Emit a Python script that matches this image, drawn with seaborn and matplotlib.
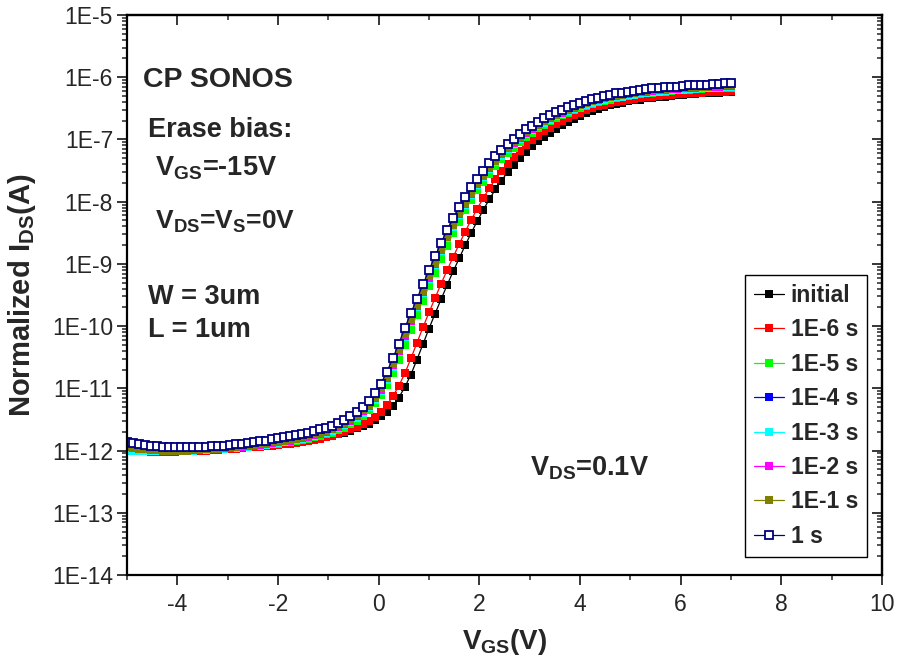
import numpy as np
import pandas as pd
import matplotlib
matplotlib.use("Agg")
import matplotlib.pyplot as plt
from matplotlib.ticker import MultipleLocator, LogLocator, FuncFormatter, NullFormatter
from matplotlib.lines import Line2D
import seaborn as sns

# Gate sweep: -5 V to 7 V in 0.12 V steps
vgs = np.round(np.arange(101) * 0.12 - 5.0, 2)

# log10 of normalized drain current for each erase time
log_initial = [
    -11.98, -11.99, -12.00, -12.00, -12.01, -12.01, -12.01, -12.01, -12.01, -12.01,
    -12.01, -12.00, -12.00, -11.99, -11.99, -11.98, -11.98, -11.97, -11.96, -11.96,
    -11.95, -11.94, -11.94, -11.93, -11.92, -11.91, -11.90, -11.89, -11.87, -11.86,
    -11.85, -11.83, -11.81, -11.79, -11.77, -11.74, -11.71, -11.68, -11.64, -11.61,
    -11.57, -11.51, -11.45, -11.38, -11.29, -11.15, -10.98, -10.78, -10.54, -10.29,
    -10.04, -9.80, -9.57, -9.34, -9.12, -8.91, -8.70, -8.50, -8.31, -8.13,
    -7.96, -7.80, -7.66, -7.53, -7.41, -7.30, -7.20, -7.11, -7.03, -6.96,
    -6.89, -6.83, -6.77, -6.72, -6.67, -6.62, -6.58, -6.54, -6.51, -6.48,
    -6.45, -6.43, -6.41, -6.39, -6.37, -6.36, -6.34, -6.33, -6.32, -6.31,
    -6.30, -6.29, -6.28, -6.27, -6.27, -6.26, -6.26, -6.25, -6.25, -6.24, -6.24,
]
log_1e6 = [
    -11.99, -12.00, -12.01, -12.01, -12.02, -12.02, -12.02, -12.02, -12.02, -12.01,
    -12.01, -12.01, -12.00, -12.00, -11.99, -11.99, -11.98, -11.97, -11.97, -11.96,
    -11.95, -11.95, -11.94, -11.93, -11.92, -11.91, -11.90, -11.89, -11.88, -11.86,
    -11.85, -11.83, -11.81, -11.79, -11.76, -11.73, -11.70, -11.66, -11.62, -11.58,
    -11.53, -11.46, -11.38, -11.27, -11.13, -10.96, -10.76, -10.52, -10.27, -10.02,
    -9.78, -9.55, -9.32, -9.10, -8.89, -8.68, -8.48, -8.29, -8.11, -7.94,
    -7.78, -7.64, -7.51, -7.39, -7.28, -7.18, -7.09, -7.01, -6.94, -6.87,
    -6.81, -6.75, -6.70, -6.65, -6.61, -6.57, -6.53, -6.50, -6.47, -6.44,
    -6.42, -6.40, -6.38, -6.36, -6.35, -6.33, -6.32, -6.31, -6.30, -6.29,
    -6.28, -6.27, -6.27, -6.26, -6.25, -6.25, -6.24, -6.24, -6.23, -6.23, -6.22,
]
log_1e5 = [
    -11.97, -11.98, -11.99, -11.99, -12.00, -12.00, -12.00, -12.00, -12.00, -12.00,
    -12.00, -11.99, -11.99, -11.98, -11.98, -11.97, -11.97, -11.96, -11.95, -11.94,
    -11.94, -11.93, -11.92, -11.91, -11.90, -11.89, -11.87, -11.86, -11.84, -11.83,
    -11.81, -11.79, -11.77, -11.74, -11.71, -11.67, -11.63, -11.58, -11.52, -11.44,
    -11.35, -11.24, -11.11, -10.95, -10.76, -10.54, -10.30, -10.06, -9.82, -9.59,
    -9.36, -9.14, -8.92, -8.71, -8.51, -8.32, -8.14, -7.97, -7.82, -7.68,
    -7.55, -7.43, -7.32, -7.22, -7.13, -7.04, -6.96, -6.89, -6.82, -6.76,
    -6.71, -6.66, -6.61, -6.57, -6.53, -6.49, -6.46, -6.43, -6.40, -6.38,
    -6.36, -6.34, -6.32, -6.30, -6.29, -6.27, -6.26, -6.25, -6.24, -6.23,
    -6.22, -6.21, -6.20, -6.20, -6.19, -6.19, -6.18, -6.18, -6.17, -6.17, -6.17,
]
log_1e4 = [
    -11.96, -11.97, -11.98, -11.99, -11.99, -12.00, -12.00, -12.00, -12.00, -12.00,
    -12.00, -11.99, -11.99, -11.98, -11.98, -11.97, -11.96, -11.96, -11.95, -11.94,
    -11.93, -11.92, -11.91, -11.90, -11.89, -11.87, -11.86, -11.84, -11.82, -11.80,
    -11.78, -11.76, -11.73, -11.70, -11.67, -11.63, -11.58, -11.53, -11.46, -11.38,
    -11.29, -11.17, -11.03, -10.85, -10.64, -10.41, -10.17, -9.92, -9.69, -9.46,
    -9.23, -9.01, -8.79, -8.58, -8.39, -8.21, -8.04, -7.88, -7.73, -7.60,
    -7.47, -7.36, -7.25, -7.15, -7.06, -6.98, -6.90, -6.84, -6.78, -6.72,
    -6.67, -6.62, -6.58, -6.54, -6.50, -6.46, -6.43, -6.40, -6.38, -6.35,
    -6.33, -6.31, -6.30, -6.28, -6.27, -6.25, -6.24, -6.23, -6.22, -6.21,
    -6.20, -6.20, -6.19, -6.18, -6.18, -6.17, -6.17, -6.16, -6.16, -6.15, -6.15,
]
log_1e3 = [
    -12.01, -12.01, -12.01, -12.01, -12.01, -12.01, -12.01, -12.01, -12.01, -12.00,
    -12.00, -12.00, -11.99, -11.99, -11.98, -11.98, -11.97, -11.96, -11.96, -11.95,
    -11.94, -11.93, -11.92, -11.91, -11.90, -11.88, -11.87, -11.85, -11.83, -11.81,
    -11.79, -11.77, -11.74, -11.71, -11.68, -11.64, -11.59, -11.54, -11.47, -11.39,
    -11.30, -11.18, -11.04, -10.86, -10.65, -10.42, -10.18, -9.93, -9.70, -9.47,
    -9.24, -9.02, -8.80, -8.59, -8.40, -8.22, -8.05, -7.89, -7.74, -7.61,
    -7.48, -7.37, -7.26, -7.16, -7.07, -6.99, -6.91, -6.85, -6.79, -6.73,
    -6.68, -6.63, -6.59, -6.55, -6.51, -6.47, -6.44, -6.41, -6.39, -6.36,
    -6.34, -6.32, -6.31, -6.29, -6.28, -6.26, -6.25, -6.24, -6.23, -6.22,
    -6.21, -6.21, -6.20, -6.19, -6.19, -6.18, -6.18, -6.17, -6.17, -6.16, -6.16,
]
log_1e2 = [
    -11.93, -11.95, -11.96, -11.97, -11.98, -11.99, -11.99, -11.99, -12.00, -12.00,
    -12.00, -11.99, -11.99, -11.98, -11.98, -11.97, -11.96, -11.96, -11.95, -11.94,
    -11.93, -11.92, -11.91, -11.90, -11.88, -11.87, -11.85, -11.84, -11.82, -11.80,
    -11.78, -11.75, -11.73, -11.70, -11.66, -11.62, -11.57, -11.52, -11.45, -11.37,
    -11.28, -11.16, -11.02, -10.84, -10.63, -10.40, -10.16, -9.91, -9.68, -9.45,
    -9.22, -9.00, -8.78, -8.57, -8.38, -8.20, -8.03, -7.87, -7.72, -7.59,
    -7.46, -7.35, -7.24, -7.14, -7.05, -6.97, -6.89, -6.83, -6.77, -6.71,
    -6.66, -6.61, -6.57, -6.53, -6.49, -6.45, -6.42, -6.39, -6.37, -6.34,
    -6.32, -6.30, -6.29, -6.27, -6.26, -6.24, -6.23, -6.22, -6.21, -6.20,
    -6.19, -6.19, -6.18, -6.17, -6.17, -6.16, -6.16, -6.15, -6.15, -6.14, -6.14,
]
log_1e1 = [
    -11.95, -11.96, -11.97, -11.98, -11.99, -11.99, -12.00, -12.00, -12.00, -12.00,
    -12.00, -11.99, -11.99, -11.98, -11.97, -11.97, -11.96, -11.95, -11.94, -11.93,
    -11.92, -11.91, -11.90, -11.89, -11.87, -11.86, -11.84, -11.83, -11.81, -11.79,
    -11.77, -11.74, -11.72, -11.69, -11.65, -11.61, -11.56, -11.50, -11.43, -11.35,
    -11.26, -11.14, -11.00, -10.82, -10.61, -10.38, -10.13, -9.89, -9.66, -9.43,
    -9.20, -8.98, -8.76, -8.56, -8.37, -8.19, -8.02, -7.86, -7.71, -7.58,
    -7.45, -7.34, -7.23, -7.13, -7.04, -6.96, -6.88, -6.82, -6.76, -6.70,
    -6.65, -6.60, -6.56, -6.52, -6.48, -6.44, -6.41, -6.38, -6.36, -6.33,
    -6.31, -6.29, -6.28, -6.26, -6.25, -6.23, -6.22, -6.21, -6.20, -6.19,
    -6.18, -6.18, -6.17, -6.16, -6.16, -6.15, -6.15, -6.14, -6.14, -6.13, -6.13,
]
log_1s = [
    -11.86, -11.88, -11.90, -11.91, -11.92, -11.93, -11.94, -11.94, -11.95, -11.95,
    -11.95, -11.95, -11.94, -11.94, -11.93, -11.93, -11.92, -11.91, -11.90, -11.89,
    -11.88, -11.87, -11.85, -11.84, -11.82, -11.80, -11.79, -11.77, -11.75, -11.73,
    -11.71, -11.68, -11.66, -11.63, -11.60, -11.56, -11.51, -11.45, -11.38, -11.30,
    -11.20, -11.08, -10.93, -10.74, -10.52, -10.28, -10.03, -9.79, -9.56, -9.33,
    -9.10, -8.88, -8.66, -8.46, -8.27, -8.09, -7.93, -7.77, -7.63, -7.50,
    -7.38, -7.27, -7.17, -7.08, -6.99, -6.91, -6.84, -6.78, -6.72, -6.66,
    -6.61, -6.56, -6.52, -6.48, -6.44, -6.41, -6.38, -6.35, -6.33, -6.30,
    -6.28, -6.26, -6.25, -6.23, -6.22, -6.21, -6.19, -6.18, -6.17, -6.16,
    -6.15, -6.15, -6.14, -6.13, -6.13, -6.12, -6.12, -6.11, -6.11, -6.10, -6.10,
]

labels = ["initial", "1E-6 s", "1E-5 s", "1E-4 s", "1E-3 s", "1E-2 s", "1E-1 s", "1 s"]
series = [log_initial, log_1e6, log_1e5, log_1e4, log_1e3, log_1e2, log_1e1, log_1s]
colors = ["#000000", "#FF0000", "#00FF00", "#0000FF", "#00FFFF", "#FF00FF", "#808000", "#000080"]

sns.set_style("ticks")
plt.rcParams["font.family"] = ["Liberation Sans", "DejaVu Sans"]
plt.rcParams["axes.unicode_minus"] = False
plt.rcParams["mathtext.fontset"] = "custom"
plt.rcParams["mathtext.rm"] = "Liberation Sans"
plt.rcParams["mathtext.bf"] = "Liberation Sans:bold"
plt.rcParams["mathtext.it"] = "Liberation Sans:italic"

W, H = 897, 668
fig = plt.figure(figsize=(W / 100, H / 100), dpi=100)
L, R, T, B = 127, 882, 15, 575
ax = fig.add_axes([L / W, 1 - B / H, (R - L) / W, (B - T) / H])

frames = []
for lab, vals in zip(labels, series):
    frames.append(pd.DataFrame({"VGS": vgs, "IDS": 10.0 ** np.asarray(vals), "time": lab}))
df = pd.concat(frames, ignore_index=True)

handles = []
for lab, col in zip(labels, colors):
    sub = df[df["time"] == lab]
    if lab == "1 s":
        kw = dict(marker="s", markersize=6.2, markerfacecolor="white",
                  markeredgecolor=col, markeredgewidth=1.3)
    else:
        kw = dict(marker="s", markersize=5.8, markerfacecolor=col,
                  markeredgecolor=col, markeredgewidth=0)
    sns.lineplot(data=sub, x="VGS", y="IDS", ax=ax, color=col, linewidth=0.9,
                 sort=False, errorbar=None, legend=False, **kw)
    handles.append(Line2D([], [], color=col, linewidth=0.9, **kw))

ax.set_yscale("log")
ax.set_xlim(-5, 10)
ax.set_ylim(1e-14, 1e-5)

ax.xaxis.set_major_locator(MultipleLocator(2))
ax.xaxis.set_minor_locator(MultipleLocator(1))
ax.yaxis.set_major_locator(LogLocator(base=10, numticks=20))
ax.yaxis.set_minor_locator(LogLocator(base=10, subs=np.arange(2, 10), numticks=20))
ax.yaxis.set_major_formatter(FuncFormatter(lambda v, p: "1E%d" % int(round(np.log10(v)))))
ax.yaxis.set_minor_formatter(NullFormatter())

ax.tick_params(axis="both", which="major", direction="out", length=7, width=1.3,
               labelsize=16.5, pad=3)
ax.tick_params(axis="x", which="major", pad=6)
ax.tick_params(axis="both", which="minor", direction="out", length=3.5, width=1.1)
for sp in ax.spines.values():
    sp.set_linewidth(1.6)
    sp.set_visible(True)
    sp.set_color("black")

# inward ticks on the top and right frame
top = ax.secondary_xaxis("top")
top.xaxis.set_major_locator(MultipleLocator(2))
top.xaxis.set_minor_locator(MultipleLocator(1))
top.tick_params(which="major", direction="in", length=7, width=1.3, labeltop=False)
top.tick_params(which="minor", direction="in", length=3.5, width=1.1)
top.spines["top"].set_linewidth(1.6)
right = ax.secondary_yaxis("right")
right.yaxis.set_major_locator(LogLocator(base=10, numticks=20))
right.yaxis.set_minor_locator(LogLocator(base=10, subs=np.arange(2, 10), numticks=20))
right.tick_params(which="major", direction="in", length=7, width=1.3, labelright=False)
right.tick_params(which="minor", direction="in", length=3.5, width=1.1)
right.spines["right"].set_linewidth(1.6)

ax.set_xlabel(r"V$_{\mathbf{GS}}$(V)", fontsize=20, fontweight="bold", labelpad=8)
ax.set_ylabel(r"Normalized I$_{\mathbf{DS}}$(A)", fontsize=21, fontweight="bold", labelpad=10)

def ax_pos(px, py):
    return ((px - L) / (R - L), (B - py) / (B - T))

notes = [
    ("CP SONOS", 143, 80, 20.5),
    ("Erase bias:", 148, 130, 19.5),
    (r" V$_{\mathbf{GS}}$=-15V", 148, 168, 19.5),
    (r" V$_{\mathbf{DS}}$=V$_{\mathbf{S}}$=0V", 148, 222, 19),
    ("W = 3um", 148, 297, 19.5),
    ("L = 1um", 148, 330, 19.5),
    (r"V$_{\mathbf{DS}}$=0.1V", 530, 468, 19.5),
]
for txt, px, py, fs in notes:
    x, y = ax_pos(px, py)
    ax.text(x, y, txt, transform=ax.transAxes, fontsize=fs, fontweight="bold",
            ha="left", va="center")

lx, ly = ax_pos(867, 275)
leg = ax.legend(handles, labels, loc="upper right", bbox_to_anchor=(lx, ly),
                frameon=True, fancybox=False, edgecolor="black", framealpha=1,
                prop={"weight": "bold", "size": 16.5}, handlelength=1.3,
                handletextpad=0.3, labelspacing=0.5, borderpad=0.38,
                borderaxespad=0, numpoints=1)
leg.get_frame().set_linewidth(1.0)

fig.savefig("out.png", dpi=100)
